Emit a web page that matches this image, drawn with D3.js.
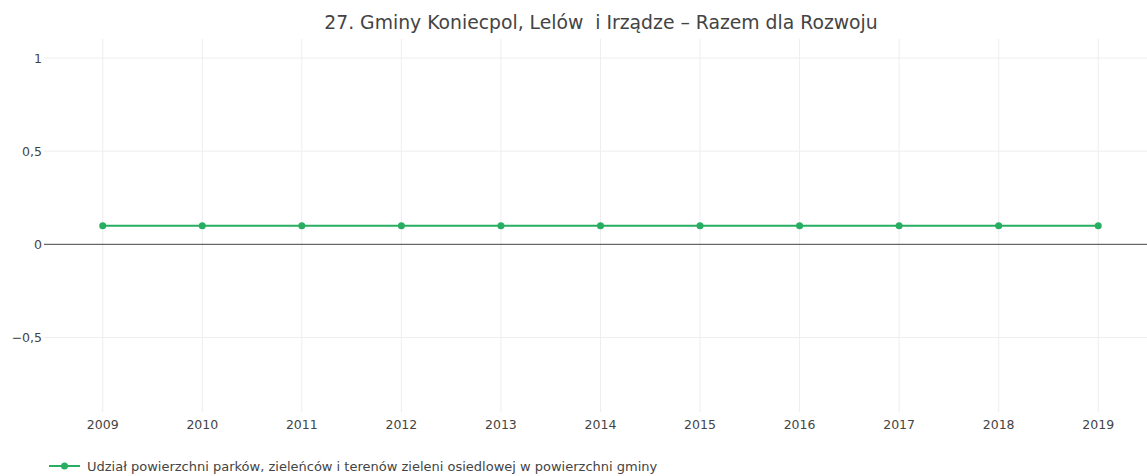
<!DOCTYPE html>
<html>
<head>
<meta charset="utf-8">
<script src="https://cdn.jsdelivr.net/npm/d3@7/dist/d3.min.js"></script>
<style>
  html, body { margin: 0; padding: 0; background: #fff; }
  svg { display: block; font-family: "DejaVu Sans", Verdana, sans-serif; }
  text { white-space: pre; }
</style>
</head>
<body>
<svg id="chart" width="1147" height="476"></svg>
<script>
// Share of parks, green squares and estate green areas in the municipality's area
const years = [2009, 2010, 2011, 2012, 2013, 2014, 2015, 2016, 2017, 2018, 2019];
const values = [0.1, 0.1, 0.1, 0.1, 0.1, 0.1, 0.1, 0.1, 0.1, 0.1, 0.1];
const yTicks = [-0.5, 0, 0.5, 1];
const title = "27. Gminy Koniecpol, Lelów  i Irządze – Razem dla Rozwoju";
const seriesName = "Udział powierzchni parków, zieleńców i terenów zieleni osiedlowej w powierzchni gminy";

const plot = { left: 44, right: 1147, top: 39, bottom: 412 };
const green = "#27ae60";
const textColor = "#444";

const svg = d3.select("#chart");

const x = d3.scaleLinear().domain([2008.41, 2019.49]).range([plot.left, plot.right]);
const y = d3.scaleLinear().domain([-0.9, 1.102]).range([plot.bottom, plot.top]);

const fmt = v => (v < 0 ? "\u2212" : "") + String(Math.abs(v)).replace(".", ",");

// Grid
svg.append("g").selectAll("line").data(years).join("line")
  .attr("x1", d => x(d)).attr("x2", d => x(d))
  .attr("y1", plot.top).attr("y2", plot.bottom)
  .attr("stroke", "#eeeeee").attr("stroke-width", 1);
svg.append("g").selectAll("line").data(yTicks.filter(d => d !== 0)).join("line")
  .attr("x1", plot.left).attr("x2", plot.right)
  .attr("y1", d => y(d)).attr("y2", d => y(d))
  .attr("stroke", "#eeeeee").attr("stroke-width", 1);

// Zero line
svg.append("line")
  .attr("x1", plot.left).attr("x2", plot.right)
  .attr("y1", y(0)).attr("y2", y(0))
  .attr("stroke", "#444").attr("stroke-width", 1);

// Y tick labels
svg.append("g").selectAll("text").data(yTicks).join("text")
  .attr("x", plot.left - 2).attr("y", d => y(d)).attr("dy", "0.36em")
  .attr("text-anchor", "end").attr("font-size", 12.5).attr("fill", textColor)
  .text(fmt);

// X tick labels
svg.append("g").selectAll("text").data(years).join("text")
  .attr("x", d => x(d)).attr("y", 429)
  .attr("text-anchor", "middle").attr("font-size", 12.5).attr("fill", textColor)
  .text(d => d);

// Series line and markers
const line = d3.line().x((d, i) => x(years[i])).y(d => y(d));
svg.append("path").datum(values)
  .attr("d", line).attr("fill", "none")
  .attr("stroke", green).attr("stroke-width", 2);
svg.append("g").selectAll("circle").data(values).join("circle")
  .attr("cx", (d, i) => x(years[i])).attr("cy", d => y(d)).attr("r", 3.5)
  .attr("fill", green);

// Title
svg.append("text")
  .attr("x", 601).attr("y", 29)
  .attr("text-anchor", "middle").attr("font-size", 18.8).attr("fill", textColor)
  .text(title);

// Legend
const lg = svg.append("g").attr("transform", "translate(0,466)");
lg.append("line").attr("x1", 49).attr("x2", 80).attr("y1", 0).attr("y2", 0)
  .attr("stroke", green).attr("stroke-width", 2);
lg.append("circle").attr("cx", 64.5).attr("cy", 0).attr("r", 3.5).attr("fill", green);
lg.append("text").attr("x", 87).attr("y", 0).attr("dy", "0.36em")
  .attr("font-size", 13).attr("fill", textColor).text(seriesName);
</script>
</body>
</html>
